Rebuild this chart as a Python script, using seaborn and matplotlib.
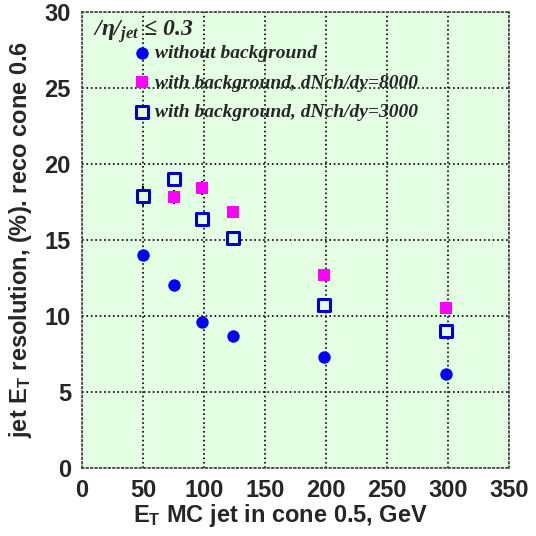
import matplotlib
matplotlib.use("Agg")
import matplotlib.pyplot as plt
import seaborn as sns
import pandas as pd
from matplotlib.ticker import MultipleLocator

# jet E_T (GeV) of the MC jet
et_nobkg = [50, 75, 98, 124, 198, 298]
res_nobkg = [14.0, 12.0, 9.6, 8.7, 7.3, 6.2]
err_nobkg = [0.1, 0.1, 0.1, 0.1, 0.1, 0.1]

et_8000 = [75, 98, 124, 198, 298]
res_8000 = [17.8, 18.4, 16.8, 12.7, 10.5]
err_8000 = [0.45, 0.45, 0.3, 0.2, 0.2]

et_3000 = [50, 75, 98, 124, 198, 298]
res_3000 = [17.9, 19.0, 16.4, 15.1, 10.7, 9.0]
err_3000 = [0.65, 0.4, 0.2, 0.2, 0.2, 0.2]

labels = ["without background",
          "with background, dNch/dy=8000",
          "with background, dNch/dy=3000"]

sns.set_style("white")
plt.rcParams['font.family'] = ['Liberation Sans', 'DejaVu Sans']
plt.rcParams['mathtext.fontset'] = 'custom'
plt.rcParams['mathtext.rm'] = 'Liberation Sans:bold'
plt.rcParams['mathtext.bf'] = 'Liberation Sans:bold'
plt.rcParams['mathtext.it'] = 'Liberation Serif:bold:italic'

bg = '#e5ffe5'
fig = plt.figure(figsize=(5.36, 5.36), dpi=100)
ax = fig.add_axes([0.153, 0.127, 0.797, 0.851])
ax.set_facecolor(bg)

df1 = pd.DataFrame({'et': et_nobkg, 'res': res_nobkg})
df2 = pd.DataFrame({'et': et_8000, 'res': res_8000})
df3 = pd.DataFrame({'et': et_3000, 'res': res_3000})

# error bars first so markers sit on top
ax.errorbar(et_nobkg, res_nobkg, yerr=err_nobkg, fmt='none', ecolor='black', elinewidth=1.5, zorder=2)
ax.errorbar(et_8000, res_8000, yerr=err_8000, fmt='none', ecolor='black', elinewidth=1.5, zorder=2)
ax.errorbar(et_3000, res_3000, yerr=err_3000, fmt='none', ecolor='black', elinewidth=1.5, zorder=2)

sns.scatterplot(data=df1, x='et', y='res', marker='o', s=80, color='#0000ff',
                edgecolor='#0000ff', linewidth=0, label=labels[0], ax=ax, zorder=3)
sns.scatterplot(data=df2, x='et', y='res', marker='s', s=80, color='#ff00ff',
                edgecolor='#ff00ff', linewidth=0, label=labels[1], ax=ax, zorder=3)
sns.scatterplot(data=df3, x='et', y='res', marker='s', s=80, facecolor=bg,
                edgecolor='#0000cc', linewidth=2.2, label=labels[2], ax=ax, zorder=3)

ax.set_xlim(0, 350)
ax.set_ylim(0, 30)
ax.xaxis.set_major_locator(MultipleLocator(50))
ax.xaxis.set_minor_locator(MultipleLocator(10))
ax.yaxis.set_major_locator(MultipleLocator(5))
ax.yaxis.set_minor_locator(MultipleLocator(1))
ax.tick_params(which='both', direction='in', top=False, right=False, color='black')
ax.tick_params(which='major', length=6, width=1, labelsize=17, pad=8)
ax.tick_params(which='minor', length=3, width=0.8)
for lbl in ax.get_xticklabels() + ax.get_yticklabels():
    lbl.set_fontweight('bold')

ax.set_axisbelow(True)
ax.xaxis.grid(True, which='major', linestyle=':', color='black', linewidth=1.2)
ax.yaxis.grid(True, which='major', linestyle=':', color='black', linewidth=1.2)
for sp in ax.spines.values():
    sp.set_linestyle(':')
    sp.set_color('#444444')
    sp.set_linewidth(1.2)

ax.set_xlabel(r"$\mathrm{E_T}$ MC jet in cone 0.5, GeV", fontsize=17, fontweight='bold')
ax.xaxis.set_label_coords(0.464, -0.075)
ax.set_ylabel(r"jet $\mathrm{E_T}$ resolution, (%). reco cone 0.6", fontsize=17, fontweight='bold')
ax.yaxis.set_label_coords(-0.112, 0.5)

ax.text(0.025, 0.985, r"/η/$_{\mathit{jet}}$ ≤ 0.3", transform=ax.transAxes,
        fontsize=17, family=['Liberation Serif', 'DejaVu Serif'], fontstyle='italic',
        fontweight='bold', va='top', ha='left')

leg = ax.legend(loc='upper left', bbox_to_anchor=(0.1, 0.945), frameon=False,
                handletextpad=0.15, labelspacing=0.6, borderaxespad=0, handlelength=1.0,
                prop={'family': 'Liberation Serif', 'style': 'italic', 'weight': 'bold', 'size': 14})

fig.savefig('out.png', dpi=100)
